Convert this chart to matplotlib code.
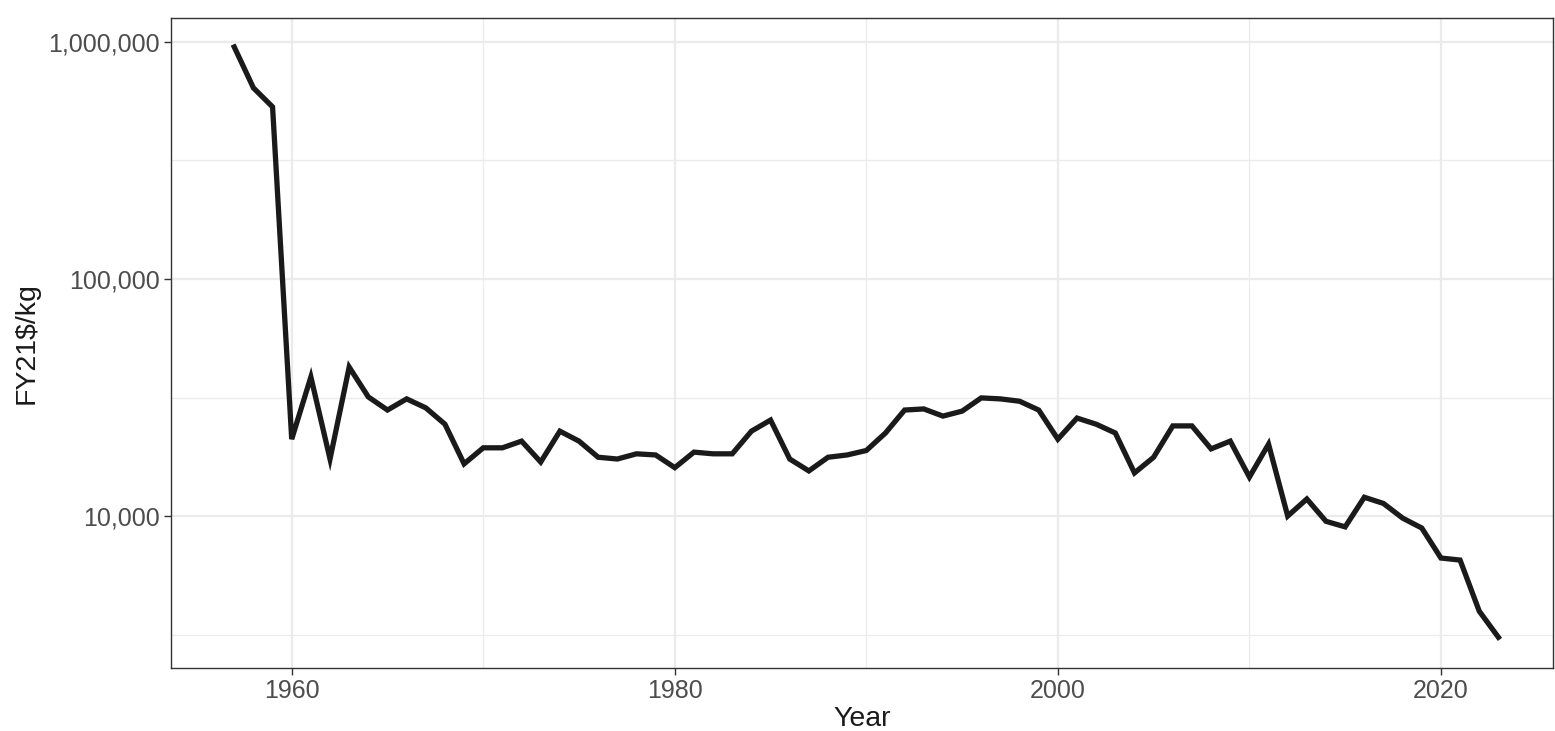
import matplotlib
matplotlib.use('Agg')
import matplotlib.pyplot as plt
from matplotlib.ticker import FixedLocator, FuncFormatter, NullFormatter

years = list(range(1957, 2024))
cost = [952000, 640000, 532000, 21100, 38600, 17400, 42500, 31800, 28000, 31200,
        28600, 24400, 16600, 19400, 19400, 20700, 16900, 22800, 20700, 17700,
        17400, 18300, 18100, 16000, 18600, 18300, 18300, 22800, 25400, 17400,
        15500, 17700, 18100, 18900, 22400, 28000, 28300, 26400, 27700, 31500,
        31200, 30500, 28000, 21100, 25900, 24400, 22400, 15200, 17700, 24000,
        24000, 19200, 20700, 14600, 20100, 10000, 11800, 9500, 9000, 12000,
        11300, 9800, 8900, 6650, 6520, 3970, 3080]

plt.rcParams['font.family'] = ['Liberation Sans', 'DejaVu Sans']

fig = plt.figure(figsize=(15.55, 7.31), dpi=100)
ax = fig.add_axes([0.110, 0.0862, 0.8887, 0.8892])

ax.plot(years, cost, color='#1a1a1a', linewidth=3.8, solid_joinstyle='miter', zorder=3)

ax.set_yscale('log')
ax.set_ylim(10 ** 3.359, 10 ** 6.101)
ax.set_xlim(1953.7, 2025.85)

ax.yaxis.set_major_locator(FixedLocator([1e4, 1e5, 1e6]))
ax.yaxis.set_minor_locator(FixedLocator([10 ** 3.5, 10 ** 4.5, 10 ** 5.5]))
ax.yaxis.set_major_formatter(FuncFormatter(lambda v, p: f'{int(round(v)):,}'))
ax.yaxis.set_minor_formatter(NullFormatter())
ax.xaxis.set_major_locator(FixedLocator([1960, 1980, 2000, 2020]))
ax.xaxis.set_minor_locator(FixedLocator([1970, 1990, 2010]))

ax.grid(which='major', color='#ebebeb', linewidth=1.6, zorder=0)
ax.grid(which='minor', color='#ebebeb', linewidth=0.9, zorder=0)
ax.set_axisbelow(True)

for s in ax.spines.values():
    s.set_color('#333333')
    s.set_linewidth(1.0)

ax.tick_params(which='major', length=5, width=1, color='#333333',
               labelcolor='#4d4d4d', labelsize=18, pad=3)
ax.tick_params(which='minor', length=0)

ax.set_xlabel('Year', fontsize=20.5, color='#1a1a1a', labelpad=2)
ax.set_ylabel('FY21$/kg', fontsize=20.5, color='#1a1a1a', labelpad=6)

fig.savefig('out.png', dpi=100, facecolor='white')
